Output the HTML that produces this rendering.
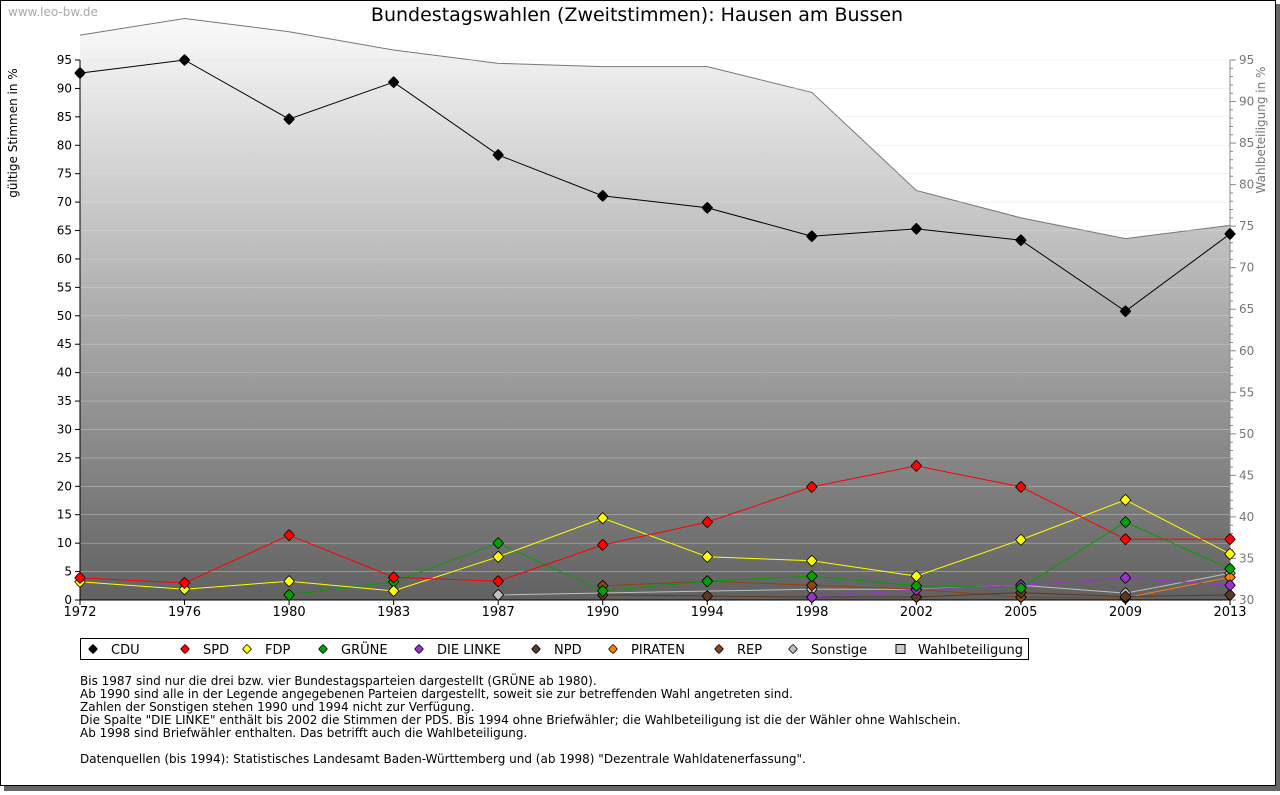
<!DOCTYPE html>
<html><head><meta charset="utf-8"><style>
body{margin:0;background:#fff;font-family:"DejaVu Sans","Liberation Sans",sans-serif;}
svg text{font-family:"DejaVu Sans","Liberation Sans",sans-serif;}
</style></head><body>
<svg id="c" width="1280" height="791" xmlns="http://www.w3.org/2000/svg">
<defs>
<linearGradient id="bg" x1="0" y1="0" x2="0" y2="1">
<stop offset="0" stop-color="#fafafa"/><stop offset="1" stop-color="#616161"/>
</linearGradient>
</defs>
<rect x="1276" y="4" width="4" height="787" fill="#666"/>
<rect x="4" y="786" width="1276" height="5" fill="#666"/>
<rect x="0.5" y="0.5" width="1275" height="785" fill="#fff" stroke="#000"/>
<text x="8" y="16" font-size="12" fill="#aaa">www.leo-bw.de</text>
<text x="637" y="21" font-size="19" text-anchor="middle">Bundestagswahlen (Zweitstimmen): Hausen am Bussen</text>
<g id="plot"></g>
<text transform="translate(17,133) rotate(-90)" font-size="12" text-anchor="middle">gültige Stimmen in %</text>
<text transform="translate(1265,130) rotate(-90)" font-size="12" fill="#777" text-anchor="middle">Wahlbeteiligung in %</text>
<g id="legend"></g>
<g font-size="12">
<text x="80" y="685">Bis 1987 sind nur die drei bzw. vier Bundestagsparteien dargestellt (GRÜNE ab 1980).</text>
<text x="80" y="698">Ab 1990 sind alle in der Legende angegebenen Parteien dargestellt, soweit sie zur betreffenden Wahl angetreten sind.</text>
<text x="80" y="711">Zahlen der Sonstigen stehen 1990 und 1994 nicht zur Verfügung.</text>
<text x="80" y="724">Die Spalte "DIE LINKE" enthält bis 2002 die Stimmen der PDS. Bis 1994 ohne Briefwähler; die Wahlbeteiligung ist die der Wähler ohne Wahlschein.</text>
<text x="80" y="737">Ab 1998 sind Briefwähler enthalten. Das betrifft auch die Wahlbeteiligung.</text>
<text x="80" y="763">Datenquellen (bis 1994): Statistisches Landesamt Baden-Württemberg und (ab 1998) "Dezentrale Wahldatenerfassung".</text>
</g>
</svg>
<script>
const years=["1972","1976","1980","1983","1987","1990","1994","1998","2002","2005","2009","2013"];
const turnout=[98.0,100.0,98.4,96.2,94.6,94.2,94.2,91.1,79.3,76.0,73.5,75.1];
const cdu=[92.7,95.0,84.6,91.1,78.3,71.1,69.0,64.0,65.3,63.3,50.8,64.4];
const spd=[3.9,3.0,11.4,4.0,3.3,9.7,13.7,19.9,23.6,19.9,10.7,10.7];
const fdp=[3.2,1.9,3.3,1.6,7.6,14.4,7.6,6.9,4.2,10.6,17.6,8.1];
const gruene=[null,null,0.9,3.2,10.0,1.6,3.3,4.2,2.5,2.1,13.7,5.5];
const linke=[null,null,null,null,null,null,null,0.5,1.8,2.6,3.9,2.6];
const npd=[null,null,null,null,null,0.9,0.7,0.5,0.5,1.3,0.6,0.9];
const piraten=[null,null,null,null,null,null,null,null,null,null,0.4,4.0];
const rep=[null,null,null,null,null,2.5,3.3,2.6,1.9,0.5,0.3,null];
const sonstige=[null,null,null,null,0.9,null,null,1.9,1.9,2.6,1.2,4.7];
const leftTicks=[0,5,10,15,20,25,30,35,40,45,50,55,60,65,70,75,80,85,90,95];
const rightTicks=[30,35,40,45,50,55,60,65,70,75,80,85,90,95];

const NS="http://www.w3.org/2000/svg";
const X0=80,X1=1230,Y0=600,Y1=60;
const x=i=>X0+i*(X1-X0)/(years.length-1);
const y=v=>Y0-v*(Y0-Y1)/95;
const y2=v=>Y0-(v-30)*(Y0-Y1)/65;
const plot=document.getElementById('plot');
function mk(t,a,p){const e=document.createElementNS(NS,t);for(const k in a)e.setAttribute(k,a[k]);(p||plot).appendChild(e);return e;}

let d=`M${x(0)},${Y0}`;turnout.forEach((v,i)=>d+=` L${x(i)},${y2(v)}`);d+=` L${x(years.length-1)},${Y0} Z`;
const area=mk('path',{d:d,fill:'url(#bg)'});


const tl=mk('polyline',{points:turnout.map((v,i)=>x(i)+','+y2(v)).join(' '),fill:'none',stroke:'#777','stroke-width':1});


leftTicks.forEach(t=>{if(t>0)mk('line',{x1:X0,x2:X1,y1:y(t),y2:y(t),stroke:'#ddd','stroke-width':0.6,opacity:0.6});});
mk('line',{x1:X0,x2:X0,y1:Y1,y2:Y0,stroke:'#000'});
mk('line',{x1:X0,x2:X1,y1:Y0,y2:Y0,stroke:'#000'});
mk('line',{x1:X1,x2:X1,y1:Y1,y2:Y0,stroke:'#888'});
leftTicks.forEach(t=>{mk('line',{x1:X0-5,x2:X0,y1:y(t),y2:y(t),stroke:'#000'});
const tx=mk('text',{x:X0-8,y:y(t)+4,'font-size':12,'text-anchor':'end'});tx.textContent=t;

});
for(let v=30;v<=95;v++)mk('line',{x1:X1,x2:X1+(v%5?3:6),y1:y2(v),y2:y2(v),stroke:'#888'});
rightTicks.forEach(t=>{const tx=mk('text',{x:X1+9,y:y2(t)+4,'font-size':12,fill:'#777'});tx.textContent=t;

});
years.forEach((yr,i)=>{mk('line',{x1:x(i),x2:x(i),y1:Y0,y2:Y0+5,stroke:'#000'});
const tx=mk('text',{x:x(i),y:Y0+16,'font-size':13,'text-anchor':'middle'});tx.textContent=yr;

});

function diamond(cx,cy,s){return `M${cx},${cy-s} Q${cx+s*0.55},${cy-s*0.55} ${cx+s*0.95},${cy} Q${cx+s*0.55},${cy+s*0.55} ${cx},${cy+s} Q${cx-s*0.55},${cy+s*0.55} ${cx-s*0.95},${cy} Q${cx-s*0.55},${cy-s*0.55} ${cx},${cy-s} Z`;}
const series=[
['CDU',cdu,'#000000','cdu'],['SPD',spd,'#ff0000','spd'],['FDP',fdp,'#ffff00','fdp'],['GRÜNE',gruene,'#00a000','gruene'],
['DIE LINKE',linke,'#9933cc','linke'],['NPD',npd,'#5a3a22','npd'],['PIRATEN',piraten,'#ff7f00','piraten'],['REP',rep,'#8b4513','rep'],['Sonstige',sonstige,'#c0c0c0','sonstige']];
series.slice().reverse().forEach(([nm,vals,col,key])=>{
 const pts=[];vals.forEach((v,i)=>{if(v!==null)pts.push(x(i)+','+y(v));});
 const ln=mk('polyline',{points:pts.join(' '),fill:'none',stroke:col,'stroke-width':1});
 
 
 vals.forEach((v,i)=>{if(v===null)return;
  const m=mk('path',{d:diamond(x(i),y(v),5.5),fill:col,stroke:'#000','stroke-width':0.8});
  
  });
});
const lg=document.getElementById('legend');
mk('rect',{x:80.5,y:638.5,width:948,height:21,fill:'#fff',stroke:'#000'},lg);
const lx=[93,185,247,323,419,536,613,719,793,900];
series.concat([['Wahlbeteiligung',null,'#ccc','turnout']]).forEach(([nm,v,col,key],i)=>{
 let m;
 if(key==='turnout')m=mk('rect',{x:lx[i]-4,y:644.5,width:9,height:9,fill:'#ccc',stroke:'#000'},lg);
 else m=mk('path',{d:diamond(lx[i],649,4.5),fill:col,stroke:'#000','stroke-width':0.8},lg);
 
 
 const t=mk('text',{x:lx[i]+18,y:654,'font-size':13},lg);t.textContent=nm;
 
 
});
</script>
</body></html>
